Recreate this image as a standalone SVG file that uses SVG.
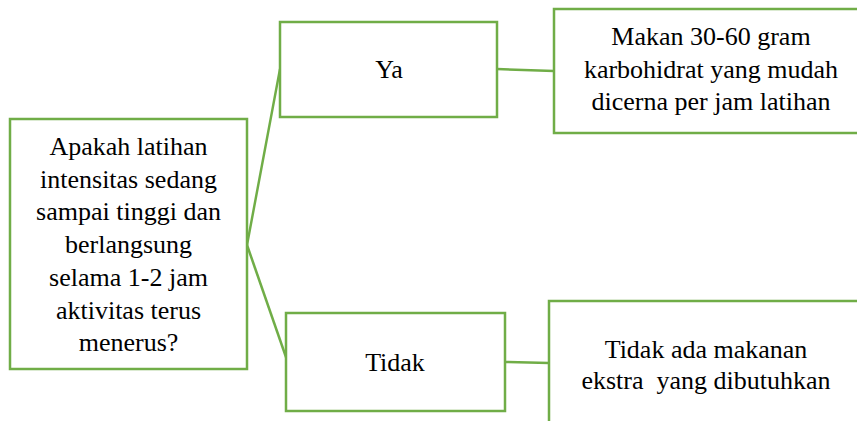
<svg xmlns="http://www.w3.org/2000/svg" width="857" height="421" viewBox="0 0 857 421">
<style>
.box{fill:#fff;stroke:#70AD47;stroke-width:2.5}
.ln{stroke:#70AD47;stroke-width:2.5;fill:none}
text{font-family:'Liberation Serif','Times New Roman',serif;font-size:26px;fill:#000;text-anchor:middle}
</style>
<rect width="857" height="421" fill="#fff"/>
<g id="connectors">
<line class="ln" x1="247" y1="245" x2="280" y2="69"/>
<line class="ln" x1="247" y1="245" x2="287" y2="360"/>
<line class="ln" x1="497" y1="69" x2="554" y2="71"/>
<line class="ln" x1="505" y1="362" x2="549" y2="363"/>
</g>
<g id="question">
<rect class="box" x="10" y="119" width="237" height="250"/>
<text x="128.5" y="155">Apakah latihan</text>
<text x="128.5" y="188">intensitas sedang</text>
<text x="128.5" y="220">sampai tinggi dan</text>
<text x="128.5" y="253">berlangsung</text>
<text x="128.5" y="286">selama 1-2 jam</text>
<text x="128.5" y="319">aktivitas terus</text>
<text x="128.5" y="351">menerus?</text>
</g>
<g id="ya">
<rect class="box" x="280" y="22" width="217" height="95"/>
<text x="389" y="78">Ya</text>
</g>
<g id="makan">
<rect class="box" x="554" y="9" width="320" height="124"/>
<text x="711" y="45">Makan 30-60 gram</text>
<text x="711" y="78">karbohidrat yang mudah</text>
<text x="711" y="110">dicerna per jam latihan</text>
</g>
<g id="tidak">
<rect class="box" x="286" y="313" width="219" height="98"/>
<text x="395" y="371">Tidak</text>
</g>
<g id="tidak-ada">
<rect class="box" x="549" y="301" width="330" height="140"/>
<text x="706" y="358">Tidak ada makanan</text>
<text x="706" y="389" xml:space="preserve">ekstra  yang dibutuhkan</text>
</g>
</svg>
